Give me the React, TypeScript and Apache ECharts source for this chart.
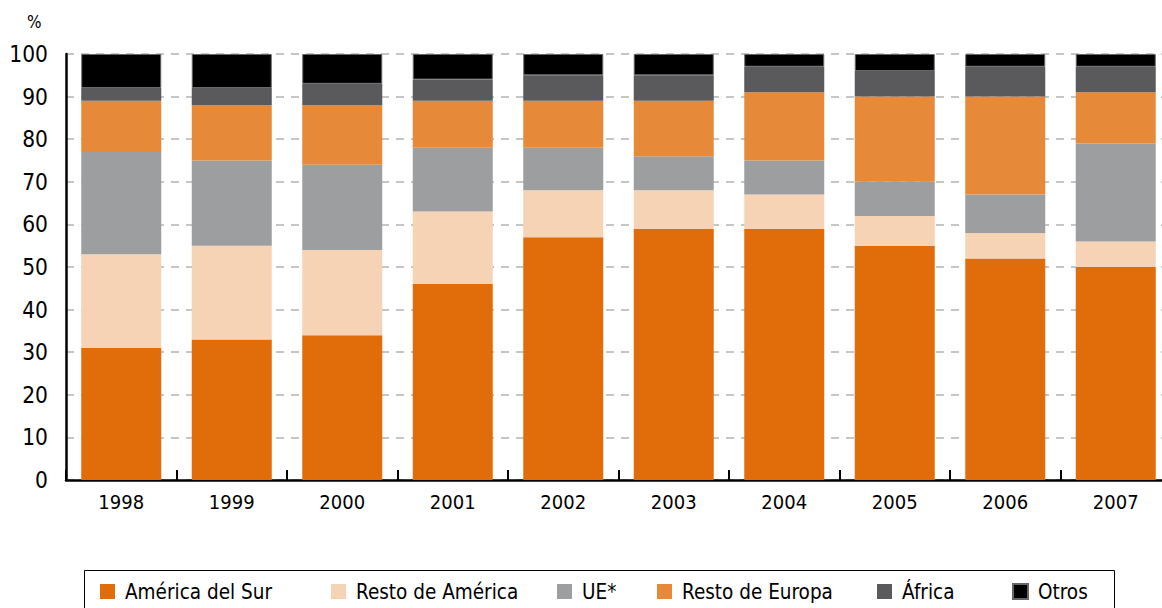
import React, { useEffect, useRef } from "react";
import * as echarts from "echarts";

const years = ["1998", "1999", "2000", "2001", "2002", "2003", "2004", "2005", "2006", "2007"];
const americaSur = [31, 33, 34, 46, 57, 59, 59, 55, 52, 50];
const restoAmerica = [22, 22, 20, 17, 11, 9, 8, 7, 6, 6];
const ue = [24, 20, 20, 15, 10, 8, 8, 8, 9, 23];
const restoEuropa = [12, 13, 14, 11, 11, 13, 16, 20, 23, 12];
const africa = [3, 4, 5, 5, 6, 6, 6, 6, 7, 6];
const otros = [8, 8, 7, 6, 5, 5, 3, 4, 3, 3];

const seriesNames = ["América del Sur", "Resto de América", "UE*", "Resto de Europa", "África", "Otros"];
const seriesColors = ["#E06D0A", "#F6D3B5", "#9D9E9F", "#E68A3A", "#5A5A5C", "#000000"];
const seriesData = [americaSur, restoAmerica, ue, restoEuropa, africa, otros];
const legendLefts = [100, 331, 557, 657, 877, 1012];

const FONT = "DejaVu Sans Condensed";

export default function App() {
  const ref = useRef<HTMLDivElement>(null);
  useEffect(() => {
    if (!ref.current) return;
    const chart = echarts.init(ref.current, null, { renderer: "svg" });
    chart.setOption({
      animation: false,
      backgroundColor: "#ffffff",
      textStyle: { fontFamily: FONT },
      grid: { left: 66, top: 54, height: 426, width: 1105, containLabel: false },
      xAxis: {
        type: "category",
        data: years,
        boundaryGap: true,
        axisLine: { show: true, lineStyle: { color: "#000", width: 2.5 } },
        axisTick: { show: true, inside: true, length: 10, alignWithLabel: false, lineStyle: { color: "#000", width: 2 } },
        axisLabel: { color: "#000", fontSize: 20, margin: 12, fontFamily: FONT },
        splitLine: { show: false },
      },
      yAxis: {
        type: "value",
        min: 0,
        max: 100,
        interval: 10,
        axisLine: { show: true, lineStyle: { color: "#000", width: 2.5 } },
        axisTick: { show: false },
        axisLabel: { color: "#000", fontSize: 22.5, margin: 18, fontFamily: FONT },
        splitLine: { show: true, lineStyle: { color: "#b4b4b4", width: 1.5, type: [8, 7] } },
      },
      legend: seriesNames.map((name, i) => ({
        data: [name],
        left: legendLefts[i],
        top: 581,
        itemWidth: 15,
        itemHeight: 15,
        icon: "rect",
        padding: 0,
        selectedMode: false,
        textStyle: { color: "#000", fontSize: 20.5, fontFamily: FONT, padding: [0, 0, 0, 5] },
      })),
      graphic: [
        {
          type: "text",
          left: 27,
          top: 13,
          style: { text: "%", fontSize: 17, fill: "#000", fontFamily: FONT },
        },
        {
          type: "rect",
          left: 82,
          top: 568,
          shape: { width: 1030, height: 50 },
          style: { fill: "none", stroke: "#000", lineWidth: 1 },
          z: -1,
        },
      ],
      series: seriesNames.map((name, i) => ({
        name,
        type: "bar",
        stack: "total",
        data: seriesData[i],
        barWidth: 80,
        itemStyle: {
          color: seriesColors[i],
          ...(i === 5 ? { borderColor: "#666", borderWidth: 1 } : {}),
        },
        emphasis: { disabled: true },
      })),
    });
    return () => chart.dispose();
  }, []);
  return (
    <div style={{ position: "fixed", left: 0, top: 0, width: 1162, height: 608, overflow: "hidden", background: "#fff" }}>
      <div ref={ref} style={{ position: "absolute", left: 0, top: 0, width: 1200, height: 608 }} />
    </div>
  );
}
